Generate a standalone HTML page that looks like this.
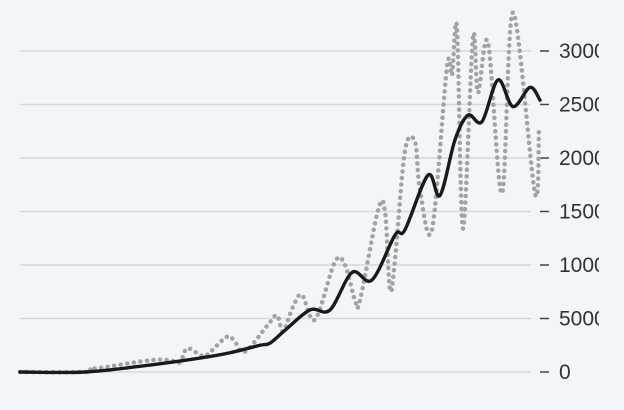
<!DOCTYPE html>
<html><head><meta charset="utf-8"><style>
html,body{margin:0;padding:0;background:#f3f6f9;}
svg{display:block;font-family:"Liberation Sans",sans-serif;}
</style></head><body>
<svg id="chart" width="624" height="410" viewBox="0 0 624 410">
<defs><clipPath id="cp"><rect x="0" y="0" width="599" height="410"/></clipPath></defs>
<rect width="624" height="410" fill="#f3f6f9"/>
<g id="grid" clip-path="url(#cp)"></g><g id="lines"></g>
</svg>
<script>
const yTicks=[0,5000,10000,15000,20000,25000,30000];
const tickLabels=["0","5000","10000","15000","20000","25000","30000"];
const dailyDays=[0,13,14,16,26,30,32,33.4,36,37.4,41.4,43,45,49.4,51.4,52.6,54.6,56.4,59,63,65,67,68,71.6,73,74,75,77,79,80,82.4,85.4,86.4,87.4,88.6,90.6,91.6,93.6,96.4,98.6,103,103.8];
const dailyValues=[0,0,350,380,1100,1100,900,2200,1600,1600,3300,2800,1900,4300,5300,3800,6100,7200,4900,10300,10000,6700,6700,15100,15000,7700,10500,20700,21500,17000,13300,28500,27800,32100,13400,31300,26100,30800,16700,33600,16700,22800];
const avgDays=[0,13,26,36,42,48,50,53,58,62,66.4,70.4,75,77,81.6,84,87,89.6,92.4,95.6,98.6,102,104];
const avgValues=[0,0,650,1300,1800,2500,2700,3900,5800,5800,9300,8600,12800,13300,18400,16500,21700,24000,23400,27300,24800,26600,25400];
const x0=20,x1=540,dMax=104,y0=372,pxPer=53.5/5000;
const X=d=>x0+d/dMax*(x1-x0), Y=v=>y0-v*pxPer;
const ns="http://www.w3.org/2000/svg";
const grid=document.getElementById('grid'), lines=document.getElementById('lines');
yTicks.forEach((t,i)=>{
 const l=document.createElementNS(ns,'line');
 l.setAttribute('x1',20);l.setAttribute('x2',531);l.setAttribute('y1',Y(t));l.setAttribute('y2',Y(t));
 l.setAttribute('stroke','#d6d9dc');l.setAttribute('stroke-width','1.5');
 
 
 grid.appendChild(l);
 const tk=document.createElementNS(ns,'line');
 tk.setAttribute('x1',540);tk.setAttribute('x2',549);tk.setAttribute('y1',Y(t));tk.setAttribute('y2',Y(t));
 tk.setAttribute('stroke','#444');tk.setAttribute('stroke-width','1.5');
 
 
 grid.appendChild(tk);
 const tx=document.createElementNS(ns,'text');
 tx.setAttribute('x',559);tx.setAttribute('y',Y(t)+7);tx.setAttribute('font-size','21');tx.setAttribute('fill','#333');
 tx.textContent=tickLabels[i];
 
 
 grid.appendChild(tx);
});
function path(ds,vs){
 const p=ds.map((d,i)=>[X(d),Y(vs[i])]);
 let s='M'+p[0][0]+','+p[0][1];
 for(let i=0;i<p.length-1;i++){
  const a=p[i-1]||p[i],b=p[i],c=p[i+1],e=p[i+2]||c;
  const c1=[b[0]+(c[0]-a[0])/6,b[1]+(c[1]-a[1])/6],c2=[c[0]-(e[0]-b[0])/6,c[1]-(e[1]-b[1])/6];
  s+=' C'+c1+' '+c2+' '+c;
 }
 return s;
}
const pd=document.createElementNS(ns,'path');
pd.setAttribute('d',path(dailyDays,dailyValues));pd.setAttribute('fill','none');pd.setAttribute('stroke','#a3a3a3');
pd.setAttribute('stroke-width','4.5');pd.setAttribute('stroke-dasharray','0.1 6.5');pd.setAttribute('stroke-linecap','round');


lines.appendChild(pd);
const pa=document.createElementNS(ns,'path');
pa.setAttribute('d',path(avgDays,avgValues));pa.setAttribute('fill','none');pa.setAttribute('stroke','#1a1a1a');
pa.setAttribute('stroke-width','3.4');pa.setAttribute('stroke-linecap','round');


lines.appendChild(pa);
</script>
</body></html>
